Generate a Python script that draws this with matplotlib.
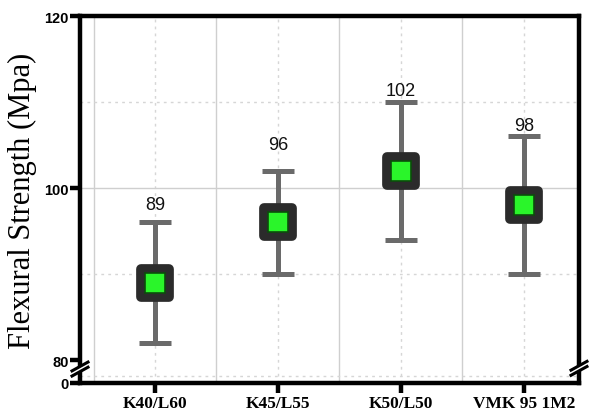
import matplotlib.pyplot as plt
import numpy as np
from matplotlib.markers import MarkerStyle
from matplotlib.patches import Polygon

# flexural strength per mix
mixes = ["K40/L60", "K45/L55", "K50/L50", "VMK 95 1M2"]
strength = [89, 96, 102, 98]
err_low = [7, 6, 8, 8]
err_high = [7, 6, 8, 8]
label_heights = [98.1, 105.1, 111.3, 107.3]

# squeeze 0-80 into a short stub under the break
squeeze = 0.0334


def fwd(y):
    y = np.asarray(y, dtype=float)
    return np.where(y >= 80, y, 80 - (80 - y) * squeeze)


def inv(t):
    t = np.asarray(t, dtype=float)
    return np.where(t >= 80, t, 80 - (80 - t) / squeeze)


fig = plt.figure(figsize=(5.96, 4.14), dpi=100)
ax = fig.add_axes([80 / 596, 1 - 384 / 414, 499 / 596, 367 / 414])
ax.set_yscale("function", functions=(fwd, inv))
ax.set_ylim(0, 120)
ax.set_xlim(-0.61, 3.45)

x = np.arange(len(mixes))

# grid: solid between groups and at 100, dotted at group centres
for xv in x[:-1] + 0.5:
    ax.axvline(xv, color="#cfcfcf", lw=1.0, zorder=0)
ax.axvline(-0.5, color="#cfcfcf", lw=1.0, zorder=0)
for xv in x:
    ax.axvline(xv, color="#d6d6d6", lw=1.0, ls=(0, (2, 3)), zorder=0)
ax.axhline(100, color="#cfcfcf", lw=1.0, zorder=0)
for yv in [25, 90, 110]:
    ax.axhline(yv, color="#d6d6d6", lw=1.0, ls=(0, (2, 3)), zorder=0)

ax.errorbar(x, strength, yerr=[err_low, err_high], fmt="none",
            ecolor="#6a6a6a", elinewidth=3.6, capsize=11.5, capthick=3.6,
            zorder=3)
ax.plot(x, strength, ls="none", marker=MarkerStyle("s", joinstyle="round"),
        markersize=19.5, markerfacecolor="#0d3b0d", markeredgecolor="#2b2b2b",
        markeredgewidth=7, zorder=4)
ax.plot(x, strength, ls="none", marker="s", markersize=14.5,
        markerfacecolor="#2af52a", markeredgecolor="#0b4d0b",
        markeredgewidth=1.2, zorder=5)

for xi, v, h in zip(x, strength, label_heights):
    ax.text(xi, h, str(v), ha="center", va="center", fontsize=13,
            family="Liberation Sans", color="#111111")

for side in ["top", "bottom", "left", "right"]:
    ax.spines[side].set_linewidth(3.2)
    ax.spines[side].set_color("black")

ax.set_yticks([0, 80, 100, 120])
ax.set_yticklabels(["0", "80", "100", "120"])
ax.yaxis.set_minor_locator(plt.NullLocator())
ax.tick_params(axis="y", direction="out", length=7, width=3.2, pad=1,
               labelsize=10.5)
for lab in ax.get_yticklabels():
    lab.set_fontfamily("Liberation Sans")
    lab.set_fontweight("bold")

ax.set_xticks(x)
ax.set_xticklabels(mixes)
ax.tick_params(axis="x", direction="out", length=7, width=3.2, pad=1.5,
               labelsize=12.5)
for lab in ax.get_xticklabels():
    lab.set_fontfamily("Liberation Serif")
    lab.set_fontweight("bold")

ax.set_ylabel("Flexural Strength (Mpa)", family="Liberation Serif",
              fontsize=22, labelpad=5)

# break marks on both vertical spines
tr = ax.transAxes
for xa, ya in [(0.0, 0.045), (1.0, 0.047)]:
    dx, dy, gap = 0.016, 0.012, 0.014
    cut = Polygon([(xa - dx, ya - dy), (xa + dx, ya + dy),
                   (xa + dx, ya + dy - gap), (xa - dx, ya - dy - gap)],
                  closed=True, transform=tr, facecolor="white",
                  edgecolor="none", clip_on=False, zorder=6)
    ax.add_patch(cut)
    for off in [0, -gap]:
        ax.plot([xa - dx, xa + dx], [ya - dy + off, ya + dy + off],
                transform=tr, color="black", lw=2.2, clip_on=False, zorder=7)

fig.savefig("out.png", dpi=100)
